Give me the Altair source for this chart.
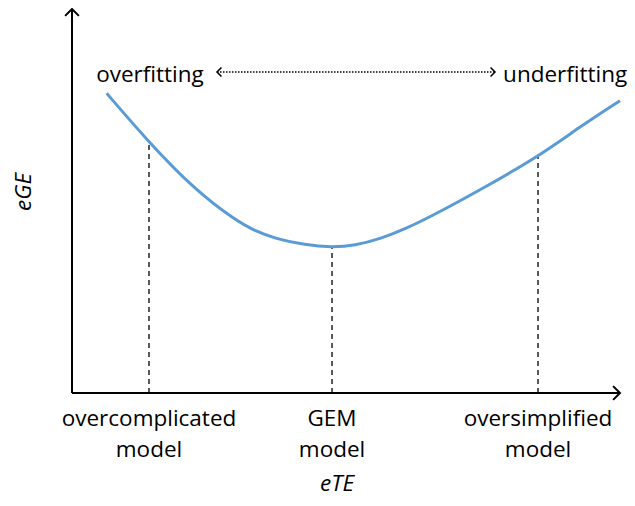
import altair as alt
import pandas as pd

# ---- data (abstract units: axis origin = 0, axis ends = 10) ----
CURVE_X = [0.633, 1.392, 2.245, 2.974, 3.339, 3.704, 4.252, 4.745, 5.164, 5.620, 6.077,
           6.533, 7.445, 8.509, 9.270, 10.0]
CURVE_Y = [7.805, 6.544, 5.286, 4.505, 4.219, 4.023, 3.854, 3.789, 3.841, 4.010, 4.271,
           4.583, 5.286, 6.154, 6.935, 7.612]

MODEL_X = [1.405, 4.745, 8.504]
MODEL_Y = [6.520, 3.789, 6.154]
MODEL_LABELS = ["overcomplicated\nmodel", "GEM\nmodel", "oversimplified\nmodel"]
MODEL_LABEL_Y = -0.859

FIT_LABELS = ["overfitting", "underfitting"]
FIT_X = [1.423, 9.00]
FIT_Y = [8.107, 8.107]

SPAN_X = [2.646, 7.719]
SPAN_Y = 8.359

AXIS_END_X = 10.0
AXIS_END_Y = 10.0
X_TITLE = "eTE"
Y_TITLE = "eGE"

# ---- scales (map the abstract units onto the canvas) ----
W, H = 619, 490
XMIN = -1.1679
XMAX = XMIN + W / 54.8
YMAX = 10.026
YMIN = YMAX - H / 38.4

FONT = "Open Sans"
FS = 22.5

xs = alt.Scale(domain=[XMIN, XMAX], nice=False, zero=False)
ys = alt.Scale(domain=[YMIN, YMAX], nice=False, zero=False)

def X(f="x"):
    return alt.X(f"{f}:Q", scale=xs, axis=None)

def Y(f="y"):
    return alt.Y(f"{f}:Q", scale=ys, axis=None)

curve_df = pd.DataFrame({"x": CURVE_X, "y": CURVE_Y})
model_df = pd.DataFrame({"x": MODEL_X, "y": MODEL_Y, "y0": [0] * len(MODEL_X),
                         "ly": [MODEL_LABEL_Y] * len(MODEL_X), "label": MODEL_LABELS})
fit_df = pd.DataFrame({"x": FIT_X, "y": FIT_Y, "label": FIT_LABELS})
axis_df = pd.DataFrame({"x": [0, 0], "y": [0, 0], "x2": [AXIS_END_X, 0], "y2": [0, AXIS_END_Y]})

CHEV_RIGHT = "M -1 -1 L 0 0 L -1 1"
CHEV_LEFT = "M 1 -1 L 0 0 L 1 1"
CHEV_UP = "M -1 1 L 0 0 L 1 1"

axes = alt.Chart(axis_df).mark_rule(color="black", strokeWidth=2).encode(
    x=X(), y=Y(), x2="x2:Q", y2="y2:Q")

x_head = alt.Chart(pd.DataFrame({"x": [AXIS_END_X], "y": [0]})).mark_point(
    shape=CHEV_RIGHT, filled=False, size=190, stroke="black", strokeWidth=2,
    opacity=1, strokeJoin="miter").encode(x=X(), y=Y())
y_head = alt.Chart(pd.DataFrame({"x": [0], "y": [AXIS_END_Y]})).mark_point(
    shape=CHEV_UP, filled=False, size=190, stroke="black", strokeWidth=2,
    opacity=1, strokeJoin="miter").encode(x=X(), y=Y())

dashes = alt.Chart(model_df).mark_rule(color="black", strokeWidth=1.3,
                                       strokeDash=[5, 4]).encode(
    x=X(), y=Y("y0"), y2="y:Q")

curve = alt.Chart(curve_df).mark_line(color="#5B9BD5", strokeWidth=3,
                                      interpolate="basis").encode(x=X(), y=Y())

span_df = pd.DataFrame({"x": [SPAN_X[0]], "x2": [SPAN_X[1]], "y": [SPAN_Y]})
span = alt.Chart(span_df).mark_rule(color="black", strokeWidth=1.4,
                                    strokeDash=[1.5, 1.5]).encode(x=X(), x2="x2:Q", y=Y())
span_l = alt.Chart(pd.DataFrame({"x": [SPAN_X[0]], "y": [SPAN_Y]})).mark_point(
    shape=CHEV_LEFT, filled=False, size=80, stroke="black", strokeWidth=1.5,
    opacity=1).encode(x=X(), y=Y())
span_r = alt.Chart(pd.DataFrame({"x": [SPAN_X[1]], "y": [SPAN_Y]})).mark_point(
    shape=CHEV_RIGHT, filled=False, size=80, stroke="black", strokeWidth=1.5,
    opacity=1).encode(x=X(), y=Y())

fit_text = alt.Chart(fit_df).mark_text(font=FONT, fontSize=FS, color="black",
                                       align="center", baseline="alphabetic").encode(
    x=X(), y=Y(), text="label:N")

model_text = alt.Chart(model_df).mark_text(
    font=FONT, fontSize=FS, color="black", align="center", baseline="alphabetic",
    lineBreak="\n", lineHeight=31).encode(
    x=X(), y=Y("ly"), text="label:N")

xt = alt.Chart(pd.DataFrame({"x": [4.836], "y": [-2.55], "t": [X_TITLE]})).mark_text(
    font=FONT, fontSize=FS, fontStyle="italic", color="black", align="center",
    baseline="alphabetic").encode(x=X(), y=Y(), text="t:N")
yt = alt.Chart(pd.DataFrame({"x": [-0.75], "y": [5.234], "t": [Y_TITLE]})).mark_text(
    font=FONT, fontSize=FS, fontStyle="italic", color="black", align="center",
    baseline="alphabetic", angle=270).encode(x=X(), y=Y(), text="t:N")

chart = alt.layer(dashes, curve, axes, x_head, y_head, span, span_l, span_r,
                  fit_text, model_text, xt, yt).properties(
    width=W, height=H, autosize=alt.AutoSizeParams(type="none"), padding=0,
    background="white"
).configure_view(stroke=None)

chart.save("out.html", embed_options={"renderer": "svg", "actions": False})
